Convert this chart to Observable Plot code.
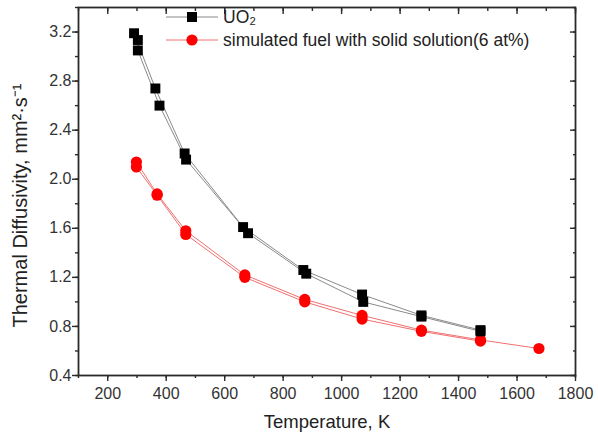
<!DOCTYPE html>
<html>
<head>
<meta charset="utf-8">
<script src="https://cdn.jsdelivr.net/npm/d3@7"></script>
<script src="https://cdn.jsdelivr.net/npm/@observablehq/plot@0.6"></script>
<style>
  html, body { margin: 0; padding: 0; background: #fff; }
  #chart svg { display: block; }
</style>
</head>
<body>
<div id="chart"></div>
<script>
// ---- data ----
const seriesNames = ["UO₂", "simulated fuel with solid solution(6 at%)"];
const uo2RunAT = [290, 363, 463, 663, 869, 1070, 1273, 1475];
const uo2RunAV = [3.19, 2.74, 2.21, 1.61, 1.26, 1.06, 0.89, 0.77];
const uo2RunBT = [303, 303, 377, 468, 680, 879, 1074, 1273, 1475];
const uo2RunBV = [3.135, 3.05, 2.60, 2.16, 1.56, 1.23, 1.00, 0.88, 0.76];
const simRunAT = [298, 369, 467, 669, 874, 1070, 1273, 1475, 1675];
const simRunAV = [2.14, 1.88, 1.58, 1.22, 1.02, 0.89, 0.77, 0.69, 0.62];
const simRunBT = [298, 369, 467, 669, 874, 1070, 1273, 1475];
const simRunBV = [2.10, 1.87, 1.55, 1.20, 1.00, 0.86, 0.76, 0.68];
const xTicks = [200, 400, 600, 800, 1000, 1200, 1400, 1600, 1800];
const yTicks = [0.4, 0.8, 1.2, 1.6, 2.0, 2.4, 2.8, 3.2];

function rows(ts, vs, series, run) {
  return ts.map((t, i) => ({T: t, v: vs[i], series, run}));
}
const uo2 = [...rows(uo2RunAT, uo2RunAV, seriesNames[0], "a"), ...rows(uo2RunBT, uo2RunBV, seriesNames[0], "b")];
const sim = [...rows(simRunAT, simRunAV, seriesNames[1], "a"), ...rows(simRunBT, simRunBV, seriesNames[1], "b")];

const font = "'Liberation Sans', Arial, sans-serif";
const axisColor = "#2a2a2a";
const minorX = d3.range(100, 1801, 100);
const minorY = d3.range(0.4, 3.41, 0.2).map(d => +d.toFixed(1));

const plot = Plot.plot({
  width: 598,
  height: 438,
  marginLeft: 78,
  marginRight: 23,
  marginTop: 7,
  marginBottom: 63,
  style: {fontFamily: font, background: "#fff", color: axisColor},
  x: {domain: [100, 1800]},
  y: {domain: [0.4, 3.4]},
  marks: [
    Plot.frame({stroke: axisColor, strokeWidth: 1.8}),
    // bottom axis
    Plot.axisX({anchor: "bottom", ticks: minorX, tickSize: 3, text: null, label: null, stroke: axisColor, strokeWidth: 1.4}),
    Plot.axisX({anchor: "bottom", ticks: xTicks, tickSize: 6, tickPadding: 6, tickFormat: d3.format("d"), label: null, fontSize: 16, fill: "#333", stroke: axisColor, strokeWidth: 1.4}),
    // top inward ticks
    Plot.axisX({anchor: "top", ticks: minorX, tickSize: -3, text: null, label: null, stroke: axisColor, strokeWidth: 1.4}),
    Plot.axisX({anchor: "top", ticks: xTicks, tickSize: -6, text: null, label: null, stroke: axisColor, strokeWidth: 1.4}),
    // left axis
    Plot.axisY({anchor: "left", ticks: minorY, tickSize: 3, text: null, label: null, stroke: axisColor, strokeWidth: 1.4}),
    Plot.axisY({anchor: "left", ticks: yTicks, tickSize: 6, tickPadding: 1, tickFormat: d3.format(".1f"), label: null, fontSize: 16, fill: "#333", stroke: axisColor, strokeWidth: 1.4}),
    // right inward ticks
    Plot.axisY({anchor: "right", ticks: minorY, tickSize: -3, text: null, label: null, stroke: axisColor, strokeWidth: 1.4}),
    Plot.axisY({anchor: "right", ticks: yTicks, tickSize: -6, text: null, label: null, stroke: axisColor, strokeWidth: 1.4}),
    // lines
    Plot.line(uo2, {x: "T", y: "v", z: "run", stroke: "#8a8a8a", strokeWidth: 1}),
    Plot.line(sim, {x: "T", y: "v", z: "run", stroke: "#f07070", strokeWidth: 1}),
    // points
    Plot.dot(sim, {x: "T", y: "v", symbol: "circle", r: 5.6, fill: "#ff0000", stroke: "none"}),
    Plot.dot(uo2, {x: "T", y: "v", symbol: "square", r: 5.6, fill: "#000", stroke: "none"}),
    // axis titles
    Plot.text(["Temperature, K"], {frameAnchor: "bottom", dy: 52, fontSize: 18.5, fill: "#222"}),
    Plot.text(["Thermal Diffusivity, mm²·s⁻¹"], {frameAnchor: "left", textAnchor: "middle", dx: -58, dy: 14, rotate: -90, fontSize: 20, fill: "#222"})
  ]
});
document.getElementById("chart").appendChild(plot);

// legend inside plot area
const svg = d3.select(plot);
const lg = svg.append("g").attr("font-family", font).attr("font-size", 17.5).attr("fill", "#222").attr("text-anchor", "start");
const items = [
  {label: seriesNames[0], line: "#8a8a8a", sym: "square", fill: "#000"},
  {label: seriesNames[1], line: "#f07070", sym: "circle", fill: "#ff0000"}
];
items.forEach((it, i) => {
  const y = 17 + i * 23;
  const g = lg.append("g").attr("transform", `translate(166,${y})`);
  g.append("line").attr("x1", 0).attr("x2", 52).attr("y1", 0).attr("y2", 0).attr("stroke", it.line).attr("stroke-width", 1);
  if (it.sym === "square") g.append("rect").attr("x", 21).attr("y", -5).attr("width", 10).attr("height", 10).attr("fill", it.fill);
  else g.append("circle").attr("cx", 26).attr("cy", 0).attr("r", 5.6).attr("fill", it.fill);
  g.append("text").attr("x", 57).attr("y", 0).attr("dy", "0.35em").attr("text-anchor", "start").text(it.label);
});
</script>
</body>
</html>
